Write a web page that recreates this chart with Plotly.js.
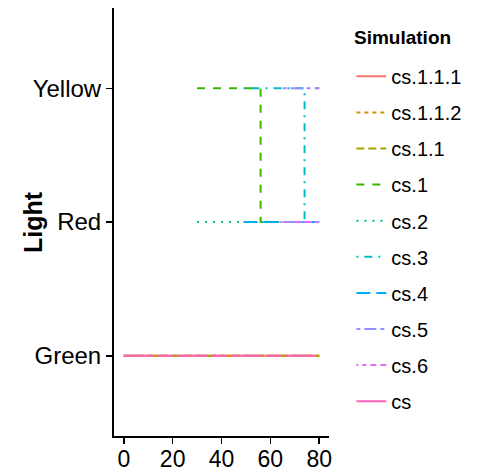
<!DOCTYPE html>
<html>
<head>
<meta charset="utf-8">
<script src="https://cdn.plot.ly/plotly-3.0.1.min.js"></script>
<style>html,body{margin:0;padding:0;background:#fff;}#chart{width:481px;height:472px;}</style>
</head>
<body>
<div id="chart"></div>
<script>
// ---- data ----
const lights = ['Green', 'Red', 'Yellow'];
const simulations = ['cs.1.1.1', 'cs.1.1.2', 'cs.1.1', 'cs.1', 'cs.2', 'cs.3', 'cs.4', 'cs.5', 'cs.6', 'cs'];
const xTicks = [0, 20, 40, 60, 80];

const time_cs111  = [0, 80, null, 78.5, 80];
const light_cs111 = ['Green', 'Green', null, 'Yellow', 'Yellow'];
const time_cs112  = [0, 80];
const light_cs112 = ['Green', 'Green'];
const time_cs11   = [0, 80];
const light_cs11  = ['Green', 'Green'];
const time_cs1    = [30, 56, 80];
const light_cs1   = ['Yellow', 'Red', 'Red'];
const time_cs2    = [30, 80];
const light_cs2   = ['Red', 'Red'];
const time_cs3    = [49, 74, 80];
const light_cs3   = ['Yellow', 'Red', 'Red'];
const time_cs4    = [49, 80];
const light_cs4   = ['Red', 'Red'];
const time_cs5    = [65, 80, null, 65, 80];
const light_cs5   = ['Yellow', 'Yellow', null, 'Red', 'Red'];
const time_cs6    = [64, 80];
const light_cs6   = ['Red', 'Red'];
const time_cs     = [0, 80];
const light_cs    = ['Green', 'Green'];

const times = [time_cs111, time_cs112, time_cs11, time_cs1, time_cs2, time_cs3, time_cs4, time_cs5, time_cs6, time_cs];
const lightVals = [light_cs111, light_cs112, light_cs11, light_cs1, light_cs2, light_cs3, light_cs4, light_cs5, light_cs6, light_cs];

// ---- styles ----
const colors = ['#F8766D', '#D89000', '#A3A500', '#39B600', '#00BF7D', '#00BFC4', '#00B0F6', '#9590FF', '#E76BF3', '#FF62BC'];
const dashes = ['solid', '4px,4px', '8px,4px', '8px,8px', '2px,6px', '2px,6px,8px,6px', '14px,6px', '4px,4px,12px,4px', '2px,4px,4px,4px,6px,4px,8px,4px', '30px,4px,16px,4px'];

const traces = simulations.map((name, i) => ({
  type: 'scatter',
  mode: 'lines',
  name: name,
  legendgroup: name,
  x: times[i],
  y: lightVals[i],
  connectgaps: false,
  line: {color: colors[i], dash: dashes[i], width: 2, shape: 'hv'},
  hoverinfo: 'skip'
}));

const font = 'Liberation Sans, Arial, Helvetica, sans-serif';
const layout = {
  width: 481, height: 472,
  margin: {l: 114, r: 152, t: 8, b: 36},
  paper_bgcolor: '#ffffff', plot_bgcolor: '#ffffff',
  font: {family: font, color: '#000000'},
  showlegend: true,
  xaxis: {
    range: [-4, 84], tickvals: xTicks, ticktext: xTicks.map(String),
    showgrid: false, zeroline: false, showline: true, linecolor: '#000', linewidth: 2,
    ticks: 'outside', ticklen: 6, tickwidth: 1.5, tickcolor: '#000',
    tickfont: {size: 23, color: '#000', family: font},
    ticklabelstandoff: -5
  },
  yaxis: {
    type: 'category', categoryorder: 'array', categoryarray: lights,
    range: [-0.6, 2.6],
    showgrid: false, zeroline: false, showline: true, linecolor: '#000', linewidth: 2,
    ticks: 'outside', ticklen: 6, tickwidth: 1.5, tickcolor: '#000',
    tickfont: {size: 24, color: '#000', family: font},
    automargin: false
  },
  annotations: [
    {text: '<b>Light</b>', xref: 'paper', yref: 'paper', x: -0.377, y: 0.5,
     xanchor: 'center', yanchor: 'middle', textangle: -90, showarrow: false,
     font: {size: 25, color: '#000', family: font}},
    {text: '<b>Simulation</b>', xref: 'paper', yref: 'paper', x: 1.108, y: 0.93,
     xanchor: 'left', yanchor: 'middle', showarrow: false,
     font: {size: 19, color: '#000', family: font}}
  ],
  legend: {
    x: 1.104, xanchor: 'left', y: 0.886, yanchor: 'top',
    font: {size: 20, family: font, color: '#000'},
    tracegroupgap: 7.1,
    itemwidth: 30,
    bgcolor: 'rgba(0,0,0,0)'
  }
};

Plotly.newPlot('chart', traces, layout, {displayModeBar: false, staticPlot: true});
</script>
</body>
</html>
